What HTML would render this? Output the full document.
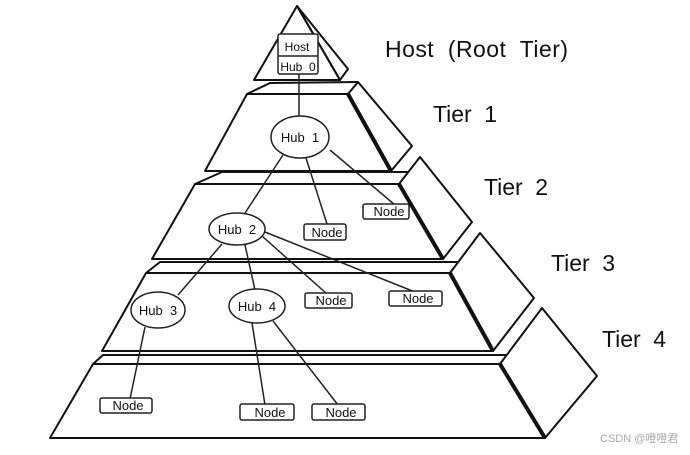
<!DOCTYPE html>
<html><head><meta charset="utf-8"><style>
body{margin:0;background:#fff;width:690px;height:450px;overflow:hidden}
svg text{font-family:"Liberation Sans",Arial,sans-serif;white-space:pre}
</style></head><body>
<svg width="690" height="450" viewBox="0 0 690 450" xmlns="http://www.w3.org/2000/svg">
<g fill="none" stroke="#111" stroke-width="2" stroke-linejoin="round">
<polygon points="297,6 254,80 340,80"/>
<polygon points="297,6 348,69 340,80"/>
<polygon points="247,94 348,94 391,171 205,171"/>
<polyline points="247,94 270,83 358,82"/>
<polygon points="348,94 358,82 412,146 391,171"/>
<polygon points="195,184 399,184 443,259 152,259"/>
<polyline points="195,184 222,172 408,172"/>
<polygon points="399,184 420,157 472,222 443,259"/>
<polygon points="146,273 450,273 493,351 102,351"/>
<polyline points="146,273 160,262 458,262"/>
<polygon points="450,273 480,233 534,298 493,351"/>
<polygon points="93,364 500,364 545,438 50,438"/>
<polyline points="93,364 103,355 507,355"/>
<polygon points="500,364 542,308 597,376 545,438"/>
</g>
<g stroke="#111" stroke-width="4" fill="none">
<line x1="348" y1="94" x2="391" y2="171"/>
<line x1="399" y1="184" x2="443" y2="259"/>
<line x1="450" y1="273" x2="493" y2="351"/>
<line x1="500" y1="364" x2="545" y2="438"/>
</g>
<g stroke="#222" stroke-width="1.5" fill="none">
<line x1="299" y1="74" x2="299" y2="117"/>
<line x1="283" y1="155" x2="245" y2="213"/>
<line x1="306" y1="158" x2="327" y2="224"/>
<line x1="330" y1="150" x2="395" y2="205"/>
<line x1="222" y1="244" x2="178" y2="295"/>
<line x1="245" y1="245" x2="255" y2="290"/>
<line x1="262" y1="236" x2="327" y2="294"/>
<line x1="265" y1="232" x2="415" y2="292"/>
<line x1="145" y1="327" x2="130" y2="399"/>
<line x1="252" y1="323" x2="265" y2="405"/>
<line x1="273" y1="321" x2="338" y2="405"/>
</g>
<g fill="#fff" stroke="#222" stroke-width="1.5">
<rect x="278" y="34" width="40" height="40" rx="2"/>
<line x1="278" y1="56" x2="318" y2="56"/>
<ellipse cx="300" cy="137" rx="29" ry="21"/>
<ellipse cx="237" cy="229" rx="28" ry="16"/>
<ellipse cx="158" cy="310" rx="27" ry="18"/>
<ellipse cx="257" cy="306" rx="28" ry="17"/>
<rect x="363" y="204" width="46" height="15" rx="2"/>
<rect x="304" y="224" width="42" height="16" rx="2"/>
<rect x="305" y="293" width="47" height="15" rx="2"/>
<rect x="389" y="291" width="53" height="15" rx="2"/>
<rect x="100" y="398" width="52" height="15" rx="2"/>
<rect x="240" y="404" width="54" height="16" rx="2"/>
<rect x="312" y="404" width="53" height="16" rx="2"/>
</g>
<g fill="#111" font-size="13" text-anchor="middle">
<text x="297" y="51" font-size="12">Host</text>
<text x="298" y="71" font-size="12">Hub  0</text>
<text x="300" y="142">Hub  1</text>
<text x="237" y="234">Hub  2</text>
<text x="158" y="315">Hub  3</text>
<text x="257" y="311">Hub  4</text>
<text x="389" y="216">Node</text>
<text x="327" y="237">Node</text>
<text x="331" y="305">Node</text>
<text x="418" y="303">Node</text>
<text x="128" y="410">Node</text>
<text x="270" y="417">Node</text>
<text x="341" y="417">Node</text>
</g>
<g fill="#111" font-size="23">
<text x="385" y="57" textLength="183" lengthAdjust="spacing">Host  (Root  Tier)</text>
<text x="433" y="122" textLength="64" lengthAdjust="spacing">Tier  1</text>
<text x="484" y="195" textLength="64" lengthAdjust="spacing">Tier  2</text>
<text x="551" y="271" textLength="64" lengthAdjust="spacing">Tier  3</text>
<text x="602" y="347" textLength="64" lengthAdjust="spacing">Tier  4</text>
</g>
<text x="600" y="442" font-size="11" fill="#aaa" font-family="Liberation Sans,Noto Sans CJK SC,sans-serif">CSDN @噔噔君</text>
</svg>
</body></html>
